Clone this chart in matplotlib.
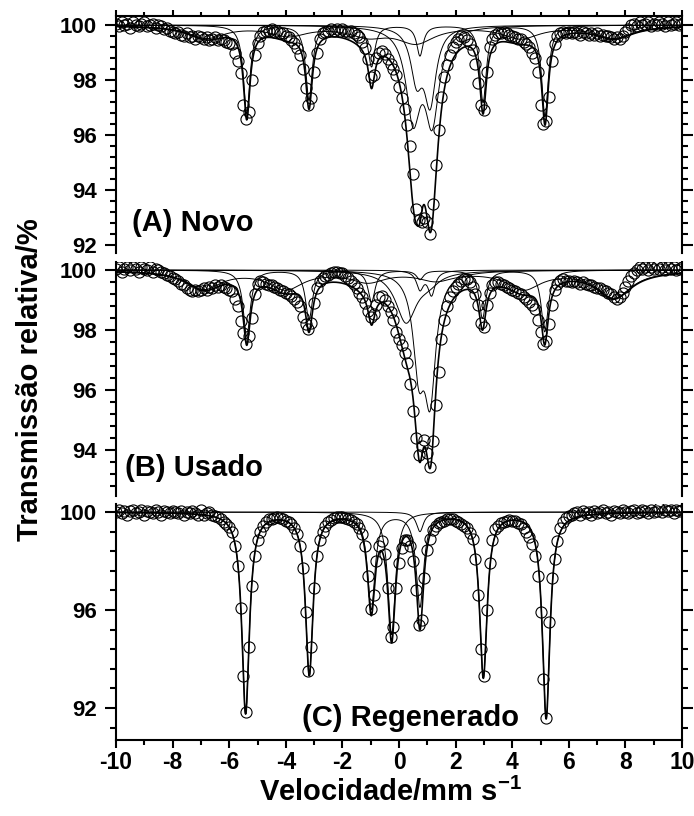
import numpy as np
import matplotlib
matplotlib.use("Agg")
import matplotlib.pyplot as plt
from matplotlib.ticker import MultipleLocator

plt.rcParams['font.family'] = ['Liberation Sans', 'DejaVu Sans']
plt.rcParams['font.weight'] = 'bold'
plt.rcParams['mathtext.fontset'] = 'custom'
plt.rcParams['mathtext.rm'] = 'Liberation Sans:bold'
plt.rcParams['mathtext.bf'] = 'Liberation Sans:bold'

# ---------------- data (velocity channels, mm/s) ----------------
velocity = np.round(np.linspace(-10, 10, 201), 2)

novo = [
    100.05, 99.95, 100.1, 100.0, 100.05, 99.9, 100.1, 100.0, 99.95, 100.05, 100.1, 99.95, 100.0, 100.05, 99.9, 100.0, 99.95, 99.85, 99.9, 99.8, 99.75,
    99.7, 99.75, 99.65, 99.6, 99.7, 99.55, 99.6, 99.5, 99.6, 99.55, 99.5, 99.55, 99.45, 99.5, 99.55, 99.45, 99.5, 99.45, 99.4, 99.35,
    99.3, 99.0, 98.7, 98.25, 97.1, 96.6, 96.85, 98.0, 98.9, 99.35, 99.6, 99.75, 99.8, 99.8, 99.85, 99.75, 99.8, 99.7, 99.7, 99.6,
    99.55, 99.45, 99.35, 99.15, 98.9, 98.4, 97.7, 97.1, 97.35, 98.3, 99.0, 99.5, 99.7, 99.75, 99.8, 99.85, 99.8, 99.85, 99.8, 99.85,
    99.8, 99.75, 99.8, 99.7, 99.65, 99.55, 99.4, 99.15, 98.75, 98.1, 98.2, 98.8, 99.0, 99.05, 98.95, 98.75, 98.6, 98.4, 98.2, 97.75,
    97.35, 96.95, 96.35, 95.6, 94.6, 93.3, 92.9, 92.85, 93.0, 92.85, 92.4, 93.5, 94.9, 96.2, 97.4, 98.1, 98.55, 98.9, 99.2, 99.4,
    99.5, 99.6, 99.55, 99.45, 99.3, 99.1, 98.6, 97.9, 97.1, 96.9, 98.3, 99.2, 99.5, 99.65, 99.7, 99.7, 99.75, 99.7, 99.65, 99.6,
    99.55, 99.5, 99.5, 99.4, 99.3, 99.2, 99.0, 98.8, 98.3, 97.1, 96.4, 96.5, 97.4, 98.7, 99.3, 99.6, 99.7, 99.75, 99.7, 99.75,
    99.7, 99.75, 99.7, 99.65, 99.75, 99.7, 99.65, 99.7, 99.65, 99.7, 99.6, 99.65, 99.6, 99.6, 99.55, 99.5, 99.55, 99.5, 99.6, 99.75,
    99.85, 100.0, 100.05, 99.95, 100.1, 100.0, 100.05, 100.1, 99.95, 100.05, 100.0, 100.1, 100.05, 99.95, 100.1, 100.0, 100.05, 100.1, 100.0, 100.05,
]

usado = [
    100.05, 100.1, 99.95, 100.05, 100.1, 100.0, 100.1, 100.05, 99.95, 100.1, 100.05, 100.0, 100.1, 99.95, 100.05, 100.0, 99.95, 99.9, 99.85, 99.8, 99.75,
    99.7, 99.65, 99.55, 99.5, 99.4, 99.35, 99.3, 99.35, 99.3, 99.35, 99.4, 99.35, 99.45, 99.4, 99.5, 99.45, 99.5, 99.45, 99.4, 99.35,
    99.3, 99.05, 98.8, 98.3, 97.9, 97.55, 97.8, 98.4, 99.2, 99.55, 99.65, 99.6, 99.55, 99.5, 99.5, 99.45, 99.4, 99.35, 99.3, 99.25,
    99.2, 99.15, 99.05, 98.95, 98.8, 98.45, 98.2, 98.05, 98.25, 98.9, 99.4, 99.65, 99.75, 99.8, 99.85, 99.9, 99.95, 99.95, 99.9, 99.9,
    99.8, 99.75, 99.65, 99.55, 99.4, 99.25, 99.1, 98.9, 98.65, 98.45, 98.55, 98.85, 99.1, 99.15, 99.0, 98.8, 98.6, 98.35, 97.95, 97.7,
    97.5, 97.25, 96.9, 96.2, 95.3, 94.4, 93.85, 94.15, 94.35, 93.9, 93.45, 94.3, 95.5, 96.6, 97.7, 98.35, 98.8, 99.1, 99.3, 99.45,
    99.55, 99.65, 99.7, 99.7, 99.6, 99.45, 99.2, 98.85, 98.25, 98.1, 98.85, 99.25, 99.5, 99.6, 99.6, 99.55, 99.5, 99.45, 99.4, 99.35,
    99.3, 99.25, 99.2, 99.1, 99.05, 98.95, 98.85, 98.7, 98.35, 97.95, 97.55, 97.65, 98.2, 98.85, 99.35, 99.55, 99.65, 99.7, 99.65, 99.65,
    99.6, 99.65, 99.6, 99.55, 99.6, 99.55, 99.5, 99.5, 99.45, 99.4, 99.4, 99.35, 99.3, 99.25, 99.2, 99.1, 99.05, 99.1, 99.25, 99.45,
    99.65, 99.8, 99.9, 100.0, 100.1, 100.05, 100.1, 100.0, 100.1, 100.05, 100.15, 100.05, 100.1, 100.0, 100.1, 100.05, 100.1, 100.0, 100.05, 100.1,
]

regenerado = [
    100.0, 100.1, 99.95, 100.05, 99.9, 100.05, 100.1, 99.95, 100.0, 100.1, 99.9, 100.05, 100.0, 99.95, 100.1, 100.0, 99.9, 100.05, 100.0, 99.95, 100.05,
    100.0, 99.95, 100.05, 99.9, 100.0, 99.95, 100.05, 99.95, 99.9, 100.1, 99.9, 99.95, 100.0, 99.9, 99.85, 99.8, 99.7, 99.6, 99.5, 99.4,
    99.2, 98.6, 97.8, 96.1, 93.3, 91.85, 94.5, 97.0, 98.2, 98.85, 99.2, 99.45, 99.6, 99.7, 99.72, 99.75, 99.78, 99.75, 99.72, 99.65,
    99.6, 99.5, 99.35, 99.1, 98.6, 97.7, 95.9, 93.5, 94.5, 96.9, 98.2, 98.85, 99.2, 99.45, 99.6, 99.68, 99.75, 99.78, 99.8, 99.8,
    99.75, 99.72, 99.68, 99.6, 99.5, 99.35, 99.1, 98.6, 97.4, 96.05, 96.6, 98.0, 98.6, 98.8, 98.3, 96.9, 94.9, 95.3, 96.9, 97.9,
    98.55, 98.85, 98.85, 98.6, 98.0, 96.8, 95.4, 95.6, 97.3, 98.45, 98.9, 99.25, 99.45, 99.55, 99.6, 99.65, 99.7, 99.72, 99.7, 99.65,
    99.6, 99.5, 99.45, 99.35, 99.15, 98.9, 98.1, 96.6, 94.4, 93.3, 96.0, 97.9, 98.85, 99.3, 99.45, 99.55, 99.6, 99.65, 99.68, 99.65,
    99.62, 99.55, 99.5, 99.35, 99.2, 99.0, 98.7, 98.2, 97.4, 95.9, 93.2, 91.6, 95.5, 97.3, 98.1, 98.8, 99.35, 99.6, 99.75, 99.85,
    99.9, 99.95, 100.0, 99.9, 100.05, 99.95, 100.0, 99.9, 100.05, 99.95, 100.0, 100.1, 99.95, 100.0, 99.9, 100.05, 100.0, 99.95, 100.1, 100.0,
    99.95, 100.05, 100.1, 99.95, 100.0, 100.1, 100.05, 99.95, 100.1, 100.0, 100.05, 100.15, 100.0, 100.1, 100.05, 100.1, 99.95, 100.1, 100.05, 100.1,
]

# ---------------- fitted sub-spectra (line position, depth %, half width) ----------------
novo_sextet_pos = [-5.38, -3.18, -0.97, 0.74, 2.97, 5.16]
novo_sextet_dep = [3.2, 2.7, 1.5, 1.1, 2.8, 3.3]
novo_sextet_hw = 0.14
novo_doub1_pos = [0.50, 1.17]
novo_doub1_dep = [3.2, 3.3]
novo_doub1_hw = 0.30
novo_doub2_pos = [0.62, 1.10]
novo_doub2_dep = [1.8, 2.7]
novo_doub2_hw = 0.25
novo_broad_pos = [-6.8, -3.9, -1.1, 0.6, 4.3, 7.6]
novo_broad_dep = [0.45, 0.35, 0.35, 0.6, 0.45, 0.45]
novo_broad_hw = 0.8

usado_sextet_pos = [-5.38, -3.18, -0.97, 0.74, 2.95, 5.15]
usado_sextet_dep = [2.2, 1.65, 1.05, 0.3, 1.6, 2.05]
usado_sextet_hw = 0.15
usado_doub1_pos = [0.74, 1.15]
usado_doub1_dep = [0.6, 0.8]
usado_doub1_hw = 0.15
usado_doub2_pos = [0.70, 1.10]
usado_doub2_dep = [3.0, 3.9]
usado_doub2_hw = 0.24
usado_doub3_pos = [0.25, 1.05]
usado_doub3_dep = [1.7, 0.3]
usado_doub3_hw = 0.45
usado_broad_pos = [-6.9, -4.0, -1.1, 1.3, 4.4, 7.6]
usado_broad_dep = [0.6, 0.6, 0.35, 0.3, 0.6, 0.9]
usado_broad_hw = 0.75

regen_sextet_pos = [-5.42, -3.17, -0.98, 0.74, 2.98, 5.20]
regen_sextet_dep = [8.2, 6.6, 3.9, 3.8, 6.7, 8.4]
regen_sextet_hw = 0.16
regen_singlet_pos = [-0.26]
regen_singlet_dep = [5.0]
regen_singlet_hw = 0.16
regen_small_pos = [0.74]
regen_small_dep = [0.8]
regen_small_hw = 0.15

panel_labels = ["(A) Novo", "(B) Usado", "(C) Regenerado"]


def absorption(v, pos, dep, hw):
    out = np.zeros_like(v)
    for p, d in zip(pos, dep):
        out += d / (1.0 + ((v - p) / hw) ** 2)
    return out


vf = np.linspace(-10, 10, 2001)

panels = [
    dict(data=novo, comps=[(novo_sextet_pos, novo_sextet_dep, novo_sextet_hw),
                           (novo_doub1_pos, novo_doub1_dep, novo_doub1_hw),
                           (novo_doub2_pos, novo_doub2_dep, novo_doub2_hw),
                           (novo_broad_pos, novo_broad_dep, novo_broad_hw)],
         ylim=(91.71, 100.33), major=2, minor=0.4, rect_px=(16, 253),
         label=panel_labels[0], lab_xy=(0.028, 0.127), lab_ha='left'),
    dict(data=usado, comps=[(usado_sextet_pos, usado_sextet_dep, usado_sextet_hw),
                            (usado_doub1_pos, usado_doub1_dep, usado_doub1_hw),
                            (usado_doub2_pos, usado_doub2_dep, usado_doub2_hw),
                            (usado_doub3_pos, usado_doub3_dep, usado_doub3_hw),
                            (usado_broad_pos, usado_broad_dep, usado_broad_hw)],
         ylim=(92.47, 100.27), major=2, minor=0.4, rect_px=(262, 496),
         label=panel_labels[1], lab_xy=(0.016, 0.12), lab_ha='left'),
    dict(data=regenerado, comps=[(regen_sextet_pos, regen_sextet_dep, regen_sextet_hw),
                                 (regen_singlet_pos, regen_singlet_dep, regen_singlet_hw),
                                 (regen_small_pos, regen_small_dep, regen_small_hw)],
         ylim=(90.69, 100.33), major=4, minor=0.8, rect_px=(504, 740),
         label=panel_labels[2], lab_xy=(0.52, 0.093), lab_ha='center'),
]

W, H = 694, 816
fig = plt.figure(figsize=(W / 100, H / 100), dpi=100)
left_px, right_px = 116, 682

for k, p in enumerate(panels):
    top, bot = p['rect_px']
    ax = fig.add_axes([left_px / W, 1 - bot / H, (right_px - left_px) / W, (bot - top) / H])
    total = np.zeros_like(vf)
    for pos, dep, hw in p['comps']:
        a = absorption(vf, pos, dep, hw)
        total += a
        ax.plot(vf, 100 - a, color='black', lw=0.7, zorder=2)
    ax.plot(velocity, p['data'], linestyle='none', marker='o', ms=8, mfc='none',
            mec='black', mew=0.8, zorder=3)
    ax.plot(vf, 100 - total, color='black', lw=1.2, zorder=4)

    ax.set_xlim(-10, 10)
    ax.set_ylim(*p['ylim'])
    ax.yaxis.set_major_locator(MultipleLocator(p['major']))
    ax.yaxis.set_minor_locator(MultipleLocator(p['minor']))
    ax.xaxis.set_major_locator(MultipleLocator(2))
    ax.xaxis.set_minor_locator(MultipleLocator(1))
    ax.tick_params(axis='y', which='both', direction='out', left=True, right=True,
                   labelleft=True, labelright=False, width=1.5, labelsize=16, pad=6)
    ax.tick_params(axis='y', which='major', length=8)
    ax.tick_params(axis='y', which='minor', length=4.5)
    for s in ax.spines.values():
        s.set_linewidth(1.5)
    if k == 0:
        ax.spines['bottom'].set_visible(False)
        ax.tick_params(axis='x', which='both', direction='out', top=True, bottom=False,
                       labeltop=False, labelbottom=False, width=1.5)
        ax.tick_params(axis='x', which='major', length=4)
        ax.tick_params(axis='x', which='minor', length=3)
    elif k == 1:
        ax.spines['bottom'].set_visible(False)
        ax.spines['top'].set_visible(False)
        ax.tick_params(axis='x', which='both', top=False, bottom=False,
                       labeltop=False, labelbottom=False)
    else:
        ax.spines['top'].set_visible(False)
        ax.tick_params(axis='x', which='both', direction='out', top=False, bottom=True,
                       labelbottom=True, width=1.5, labelsize=16.5, pad=2)
        ax.tick_params(axis='x', which='major', length=6)
        ax.tick_params(axis='x', which='minor', length=3.5)
        ax.set_xticks(np.arange(-10, 11, 2))
        ax.set_xticklabels([str(int(t)) for t in np.arange(-10, 11, 2)])
    ax.set_yticklabels([f"{int(round(t))}" for t in ax.get_yticks()])
    ax.text(p['lab_xy'][0], p['lab_xy'][1], p['label'], transform=ax.transAxes,
            fontsize=21, fontweight='bold', ha=p['lab_ha'], va='center')

fig.text(390 / W, 1 - 792 / H, r"Velocidade/mm s$^{-1}$", ha='center', va='center',
         fontsize=21, fontweight='bold')
fig.text(30 / W, 1 - 380 / H, "Transmissão relativa/%", ha='center', va='center',
         rotation=90, fontsize=21, fontweight='bold')

fig.savefig("out.png", dpi=100)
